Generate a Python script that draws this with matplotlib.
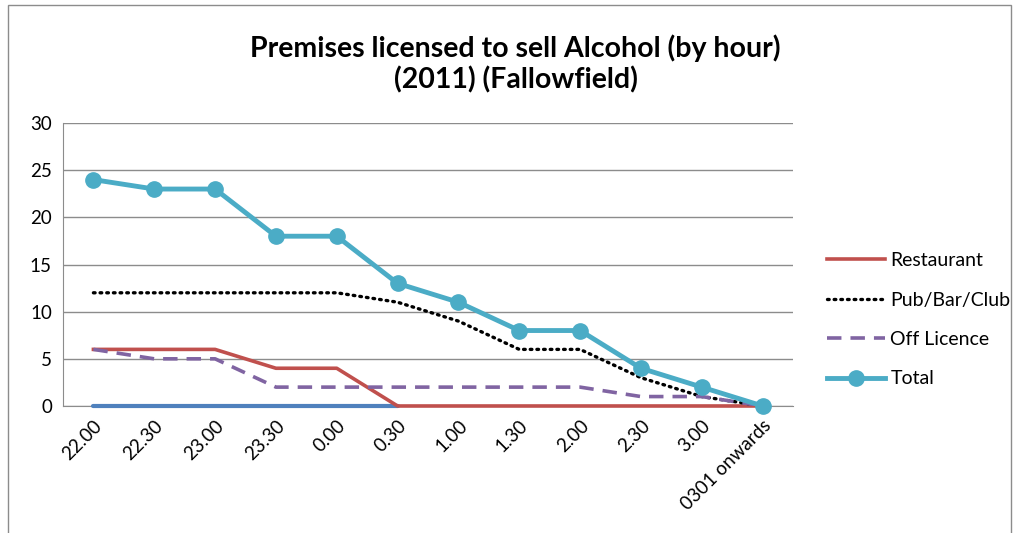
import matplotlib
matplotlib.use('Agg')
import matplotlib.pyplot as plt
from matplotlib.patches import Rectangle

plt.rcParams['font.family'] = ['Lato', 'DejaVu Sans']

hours = ["22.00", "22.30", "23.00", "23.30", "0.00", "0.30", "1.00",
         "1.30", "2.00", "2.30", "3.00", "0301 onwards"]
restaurant = [6, 6, 6, 4, 4, 0, 0, 0, 0, 0, 0, 0]
pub_bar_club = [12, 12, 12, 12, 12, 11, 9, 6, 6, 3, 1, 0]
off_licence = [6, 5, 5, 2, 2, 2, 2, 2, 2, 1, 1, 0]
total = [24, 23, 23, 18, 18, 13, 11, 8, 8, 4, 2, 0]
# unlabelled series sitting on zero for the first six hours
other = [0, 0, 0, 0, 0, 0]

fig = plt.figure(figsize=(10.21, 5.33), dpi=100)
ax = fig.add_axes([0.0617, 0.2383, 0.7150, 0.5309])

x = list(range(len(hours)))

ax.plot(x[:len(other)], other, color="#4F81BD", lw=3, solid_capstyle="round",
        zorder=3, clip_on=False)
ax.plot(x, restaurant, color="#C0504D", lw=2.6, label="Restaurant",
        zorder=3, clip_on=False)
ax.plot(x, pub_bar_club, color="black", lw=2.4, ls=(0, (0.5, 1.5)),
        dash_capstyle="round", label="Pub/Bar/Club", zorder=3)
ax.plot(x, off_licence, color="#8064A2", lw=2.6, ls=(0, (4, 2.5)),
        label="Off Licence", zorder=3)
ax.plot(x, total, color="#4BACC6", lw=3.5, marker="o", markersize=11,
        label="Total", zorder=4, clip_on=False)

ax.set_xlim(-0.5, len(hours) - 0.5)
ax.set_ylim(0, 30)
ax.set_yticks(range(0, 31, 5))
ax.set_xticks(x)
ax.set_xticklabels(hours, rotation=45, ha="right", rotation_mode="anchor",
                   fontsize=13.5)
ax.tick_params(axis="y", labelsize=13.5, length=0, pad=8)
ax.tick_params(axis="x", length=0, pad=8)
ax.grid(axis="y", color="#8c8c8c", lw=1)
ax.set_axisbelow(True)
for s in ["top", "right"]:
    ax.spines[s].set_visible(False)
for s in ["left", "bottom"]:
    ax.spines[s].set_color("#8c8c8c")

fig.text(0.505, 0.91, "Premises licensed to sell Alcohol (by hour)",
         ha="center", va="center", fontsize=20.5, fontweight="bold")
fig.text(0.505, 0.85, "(2011) (Fallowfield)",
         ha="center", va="center", fontsize=20.5, fontweight="bold")

fig.legend(loc="center left", bbox_to_anchor=(0.793, 0.40), frameon=False,
           fontsize=14, handlelength=3.0, handletextpad=0.25, labelspacing=1.15)

fig.patches.append(Rectangle((0.008, -0.01), 0.982, 1.0, transform=fig.transFigure,
                             fill=False, edgecolor="#8c8c8c", lw=1))

plt.savefig("out.png", dpi=100)
plt.close()
